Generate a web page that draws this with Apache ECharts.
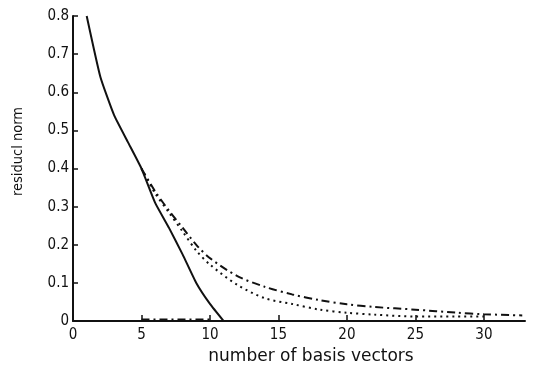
<!DOCTYPE html>
<html>
<head>
<meta charset="utf-8">
<script src="https://cdn.jsdelivr.net/npm/echarts@6/dist/echarts.min.js"></script>
<style>
  html, body { margin: 0; padding: 0; background: #fff; }
  #chart { width: 537px; height: 370px; }
</style>
</head>
<body>
<div id="chart"></div>
<script>
    // values
    var solidX = [1, 2, 3, 4, 5, 6, 7, 8, 9, 10, 11];
    var solidY = [0.8, 0.64, 0.54, 0.47, 0.4, 0.31, 0.245, 0.175, 0.1, 0.045, 0];

    var dashDotX = [5, 6, 7, 8, 9, 10, 12, 14, 16, 18, 20, 22, 25, 28, 30, 32.8];
    var dashDotY = [0.4, 0.34, 0.29, 0.245, 0.2, 0.165, 0.118, 0.09, 0.07, 0.055, 0.044, 0.037, 0.03, 0.022, 0.018, 0.015];

    var dottedX = [5, 6, 7, 8, 9, 10, 12, 14, 16, 18, 20, 22, 25, 28, 30];
    var dottedY = [0.4, 0.335, 0.285, 0.235, 0.185, 0.148, 0.095, 0.06, 0.045, 0.03, 0.022, 0.017, 0.012, 0.012, 0.012];

    var baseX = [5, 10];
    var baseY = [0.004, 0.004];

    function pairs(xs, ys) {
        return xs.map(function (x, i) { return [x, ys[i]]; });
    }

    var font = 'DejaVu Sans Condensed';
    var chart = echarts.init(document.getElementById('chart'));

    var option = {
        backgroundColor: '#fff',
        animation: false,
        grid: {
            left: 73,
            right: 12,
            top: 16,
            bottom: 46
        },
        xAxis: {
            type: 'value',
            min: 0,
            max: 33,
            interval: 5,
            name: 'number of basis vectors',
            nameLocation: 'middle',
            nameGap: 26,
            nameTextStyle: { color: '#111', fontFamily: 'DejaVu Sans', fontSize: 17, padding: [0, 0, 0, 24] },
            axisLine: { show: true, lineStyle: { color: '#111', width: 2 } },
            axisTick: { show: true, inside: true, length: 6, lineStyle: { color: '#111', width: 1.5 } },
            axisLabel: { color: '#111', fontFamily: font, fontSize: 15, margin: 7, showMaxLabel: false },
            splitLine: { show: false }
        },
        yAxis: {
            type: 'value',
            min: 0,
            max: 0.8,
            interval: 0.1,
            name: 'residucl norm',
            nameLocation: 'middle',
            nameGap: 47,
            nameTextStyle: { color: '#111', fontFamily: font, fontSize: 14.5, padding: [0, 0, 0, 34] },
            axisLine: { show: true, lineStyle: { color: '#111', width: 2 } },
            axisTick: { show: true, inside: true, length: 5, lineStyle: { color: '#111', width: 1.5 } },
            axisLabel: {
                color: '#111', fontFamily: font, fontSize: 15, margin: 4,
                formatter: function (v) { return v === 0 ? '0' : v.toFixed(1); }
            },
            splitLine: { show: false }
        },
        series: [
            {
                name: 'solid',
                type: 'line',
                showSymbol: false,
                smooth: 0.15,
                lineStyle: { color: '#111', width: 2 },
                data: pairs(solidX, solidY)
            },
            {
                name: 'dash-dot',
                type: 'line',
                showSymbol: false,
                smooth: 0.3,
                lineStyle: { color: '#111', width: 2, type: [8, 4, 2, 4] },
                data: pairs(dashDotX, dashDotY)
            },
            {
                name: 'dotted',
                type: 'line',
                showSymbol: false,
                smooth: 0.3,
                lineStyle: { color: '#111', width: 2, type: [2, 4] },
                data: pairs(dottedX, dottedY)
            },
            {
                name: 'base',
                type: 'line',
                showSymbol: false,
                lineStyle: { color: '#111', width: 2, type: [8, 4, 2, 4] },
                data: pairs(baseX, baseY)
            }
        ]
    };

    chart.setOption(option);
</script>
</body>
</html>
